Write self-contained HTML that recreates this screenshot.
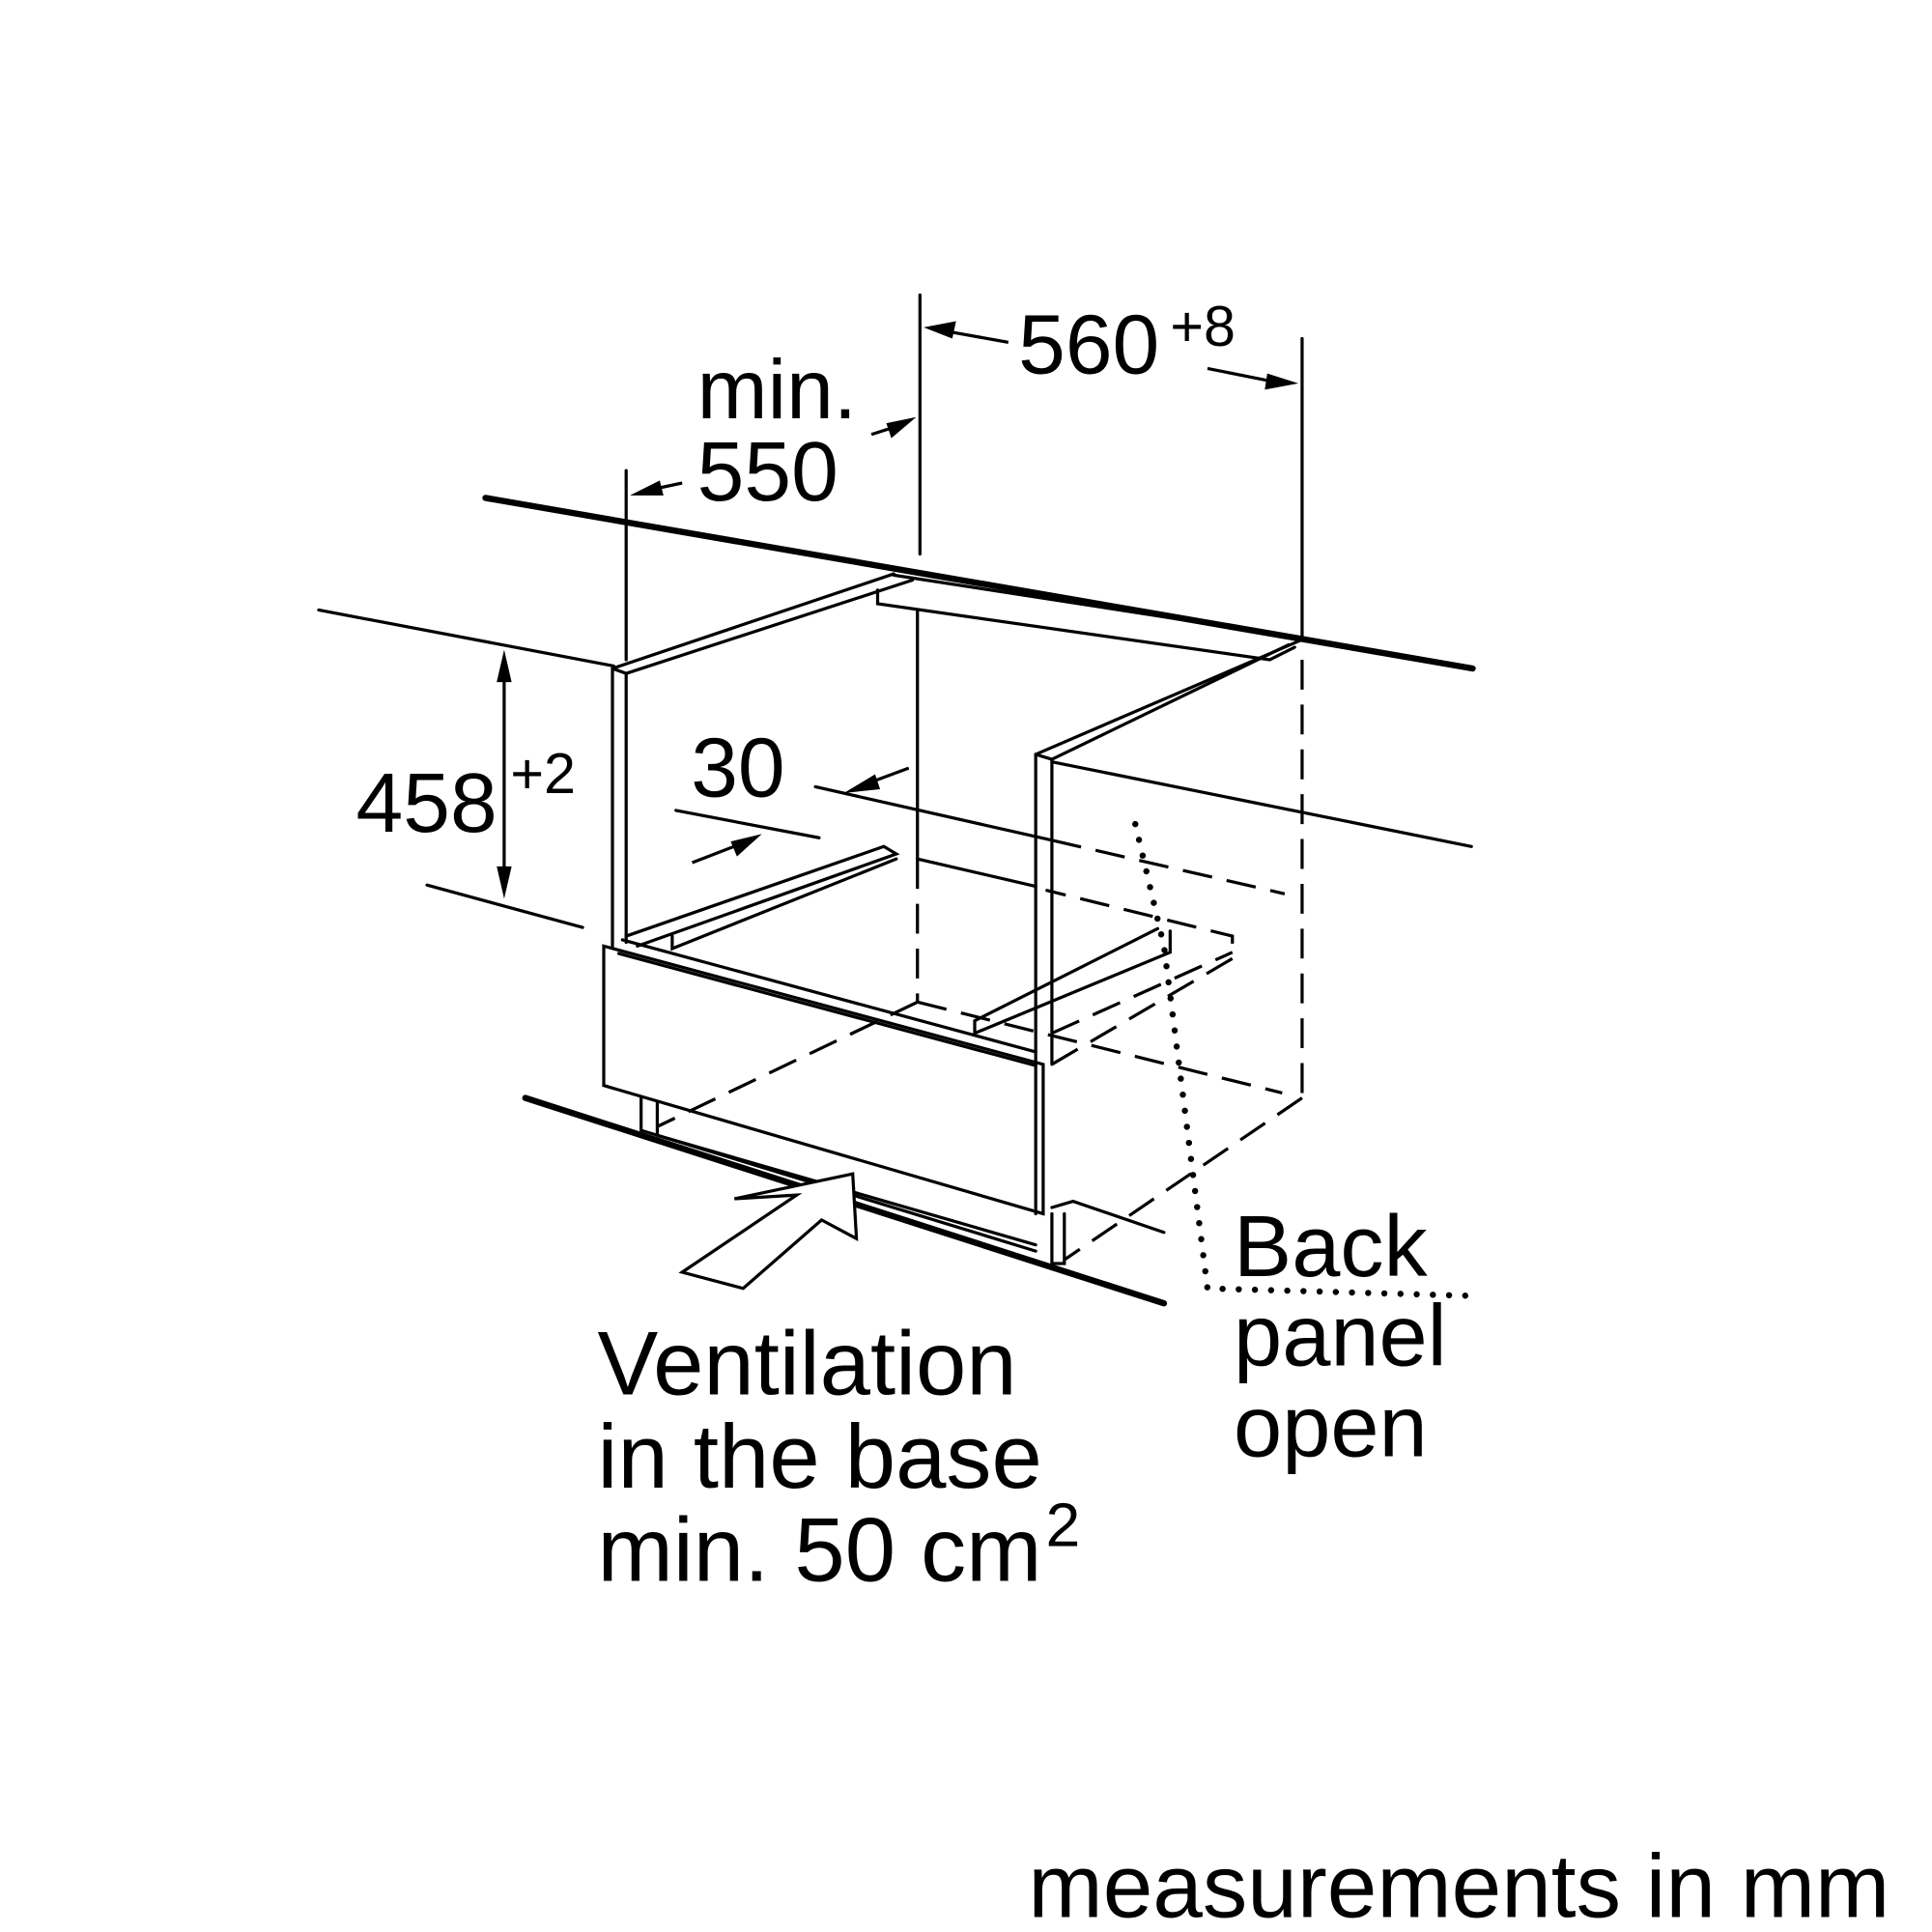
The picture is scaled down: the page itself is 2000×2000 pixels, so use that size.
<!DOCTYPE html>
<html><head><meta charset="utf-8"><style>
html,body{margin:0;padding:0;background:#fff;}
svg{display:block;}
text{font-family:"Liberation Sans",sans-serif;fill:#000;}
</style></head><body>
<svg width="2000" height="2000" viewBox="0 0 1552 1552" xmlns="http://www.w3.org/2000/svg">
<g stroke="#000" fill="none" stroke-width="2.5" stroke-linecap="round">
<line x1="390" y1="400" x2="1183" y2="537" stroke-width="5"/>
<line x1="422" y1="882" x2="935" y2="1047" stroke-width="5"/>
<line x1="256" y1="490" x2="493" y2="535"/>
<line x1="343" y1="711" x2="468" y2="745"/>
<line x1="845" y1="612" x2="1182" y2="680"/>
<line x1="492" y1="537" x2="492" y2="760"/>
<line x1="503" y1="541" x2="503" y2="757"/>
<line x1="492" y1="537" x2="718" y2="461"/>
<line x1="503" y1="541" x2="733" y2="466"/>
<line x1="492" y1="537" x2="503" y2="541"/>
<polyline points="705,474 705,485 1020,530 1040,520"/>
<line x1="718" y1="462" x2="1048" y2="513"/>
<line x1="1048" y1="513" x2="832" y2="606"/>
<line x1="1035" y1="518" x2="845" y2="610"/>
<line x1="832" y1="606" x2="845" y2="610"/>
<line x1="832" y1="606" x2="832" y2="975"/>
<line x1="845" y1="610" x2="845" y2="855"/>
<line x1="503" y1="378" x2="503" y2="530"/>
<line x1="739" y1="237" x2="739" y2="445"/>
<line x1="1046" y1="272" x2="1046" y2="513"/>
<line x1="737" y1="490" x2="737" y2="690"/>
<line x1="655" y1="632" x2="845" y2="675"/>
<line x1="543" y1="651" x2="658" y2="673"/>
<line x1="737" y1="690" x2="832" y2="712"/>
<line x1="405" y1="540" x2="405" y2="705"/>
<polyline points="503,752 710,680 720,686 512,760"/>
<polyline points="540,752 540,762 720,690"/>
<line x1="500" y1="755" x2="832" y2="845"/>
<line x1="497" y1="766" x2="832" y2="856"/>
<polyline points="783,820 783,830 940,765 940,748"/>
<line x1="783" y1="820" x2="930" y2="746"/>
<polygon points="485,760 838,855 838,975 485,872"/>
<polyline points="515,882 515,908 832,1005"/>
<polyline points="528,886 528,912 832,1000"/>
<polyline points="845,975 845,1015 855,1015 855,975"/>
<polyline points="845,970 862,965 935,990"/>
</g>
<g stroke="#000" fill="none" stroke-width="2.5" stroke-dasharray="24,12">
<line x1="845" y1="675" x2="1032" y2="718"/>
<line x1="737" y1="690" x2="737" y2="805"/>
<line x1="1046" y1="530" x2="1046" y2="882"/>
<line x1="1046" y1="882" x2="855" y2="1012"/>
<line x1="737" y1="805" x2="1030" y2="878"/>
<line x1="737" y1="805" x2="528" y2="905"/>
<polyline points="845,855 990,770 990,752 840,715"/>
<line x1="845" y1="830" x2="990" y2="765"/>
</g>
<g stroke="#000" fill="none" stroke-width="5" stroke-linecap="round" stroke-dasharray="0,13">
<polyline points="912,662 935,760 970,1035 1183,1041"/>
</g>
<g fill="#000">
<polygon points="742,263 768,258 765,272"/>
<line x1="760" y1="266" x2="810" y2="275" stroke="#000" stroke-width="2.5"/>
<polygon points="1043,308 1018,300 1016,313"/>
<line x1="970" y1="296" x2="1020" y2="306" stroke="#000" stroke-width="2.5"/>
<polygon points="506,398 530,386 533,398"/>
<line x1="520" y1="394" x2="548" y2="388" stroke="#000" stroke-width="2.5"/>
<polygon points="736,335 712,340 716,352"/>
<line x1="700" y1="349" x2="725" y2="341" stroke="#000" stroke-width="2.5"/>
<polygon points="405,522 399,548 411,548"/>
<polygon points="405,722 399,696 411,696"/>
<polygon points="678,637 703,622 707,634"/>
<line x1="695" y1="630" x2="730" y2="617" stroke="#000" stroke-width="2.5"/>
<polygon points="612,670 587,676 592,688"/>
<line x1="556" y1="693" x2="600" y2="676" stroke="#000" stroke-width="2.5"/>
</g>
<polygon points="548,1022 640,960 590,963 685,943 688,995 660,980 597,1035" fill="#fff" stroke="#000" stroke-width="2.5"/>
<text x="818" y="300" font-size="68">560</text>
<text x="940" y="278" font-size="46">+8</text>
<text x="560" y="336" font-size="68">min.</text>
<text x="560" y="402" font-size="68">550</text>
<text x="286" y="668" font-size="68">458</text>
<text x="410" y="637" font-size="46">+2</text>
<text x="555" y="640" font-size="68">30</text>
<text x="991" y="1025" font-size="70">Back</text>
<text x="991" y="1097" font-size="70">panel</text>
<text x="991" y="1170" font-size="70">open</text>
<text x="480" y="1120" font-size="73">Ventilation</text>
<text x="480" y="1195" font-size="73">in the base</text>
<text x="480" y="1270" font-size="73">min. 50 cm</text>
<text x="840" y="1242" font-size="50">2</text>
<text x="826" y="1540" font-size="72">measurements in mm</text>
</svg>
</body></html>
